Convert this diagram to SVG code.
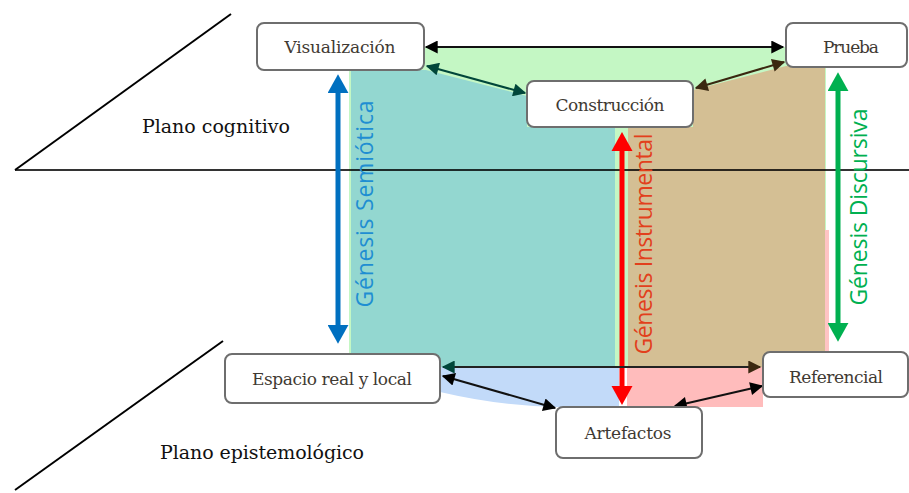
<svg xmlns="http://www.w3.org/2000/svg" width="909" height="493" viewBox="0 0 909 493">
<style>
.node rect{fill:#fff;stroke:#6e6e6e;stroke-width:2}
.node text{font-family:"DejaVu Serif","Liberation Serif",serif;font-size:17px;fill:#3f3a33;text-anchor:middle}
.plane{font-family:"DejaVu Serif","Liberation Serif",serif;font-size:19px;fill:#111}
.gen{font-family:"Open Sans","Noto Sans",sans-serif;font-size:23px;text-anchor:middle}
.conn{fill:none;stroke-width:2}
.thick{fill:none;stroke-width:5}
</style>
<defs>
<marker id="mBlack" viewBox="0 0 10 10" refX="9" refY="5" markerWidth="16" markerHeight="13" markerUnits="userSpaceOnUse" orient="auto-start-reverse"><path d="M0,0 L10,5 L0,10 z" fill="#000"/></marker>
<marker id="mTeal" viewBox="0 0 10 10" refX="9" refY="5" markerWidth="16" markerHeight="13" markerUnits="userSpaceOnUse" orient="auto-start-reverse"><path d="M0,0 L10,5 L0,10 z" fill="#00463a"/></marker>
<marker id="mBrown" viewBox="0 0 10 10" refX="9" refY="5" markerWidth="16" markerHeight="13" markerUnits="userSpaceOnUse" orient="auto-start-reverse"><path d="M0,0 L10,5 L0,10 z" fill="#3a2810"/></marker>
<marker id="tBlue" viewBox="0 0 18 20" refX="2" refY="10" markerWidth="19" markerHeight="21" markerUnits="userSpaceOnUse" orient="auto-start-reverse"><path d="M0,0 L18,10 L0,20 z" fill="#0070c0"/></marker>
<marker id="tRed" viewBox="0 0 18 20" refX="2" refY="10" markerWidth="19" markerHeight="22" markerUnits="userSpaceOnUse" orient="auto-start-reverse"><path d="M0,0 L18,10 L0,20 z" fill="#ff0000"/></marker>
<marker id="tGreen" viewBox="0 0 18 20" refX="2" refY="10" markerWidth="19" markerHeight="21" markerUnits="userSpaceOnUse" orient="auto-start-reverse"><path d="M0,0 L18,10 L0,20 z" fill="#00b050"/></marker>
</defs>
<rect width="909" height="493" fill="#fff"/>
<g id="regions">
<rect x="349" y="47" width="477" height="320" fill="#c4f7c4"/>
<rect x="825" y="230" width="4" height="137" fill="#ffc4c4"/>
<path d="M351,70 H426 L527,96 V127 H615 V367 H351 Z" fill="#93d7d0"/>
<path d="M628,127 H693 V90 L786,66 H825 V367 H628 Z" fill="#d4bf94"/>
<path d="M440,367 H619 V407 H556 Q500,406 440,392 Z" fill="#c2daf9"/>
<rect x="627" y="367" width="136" height="40" fill="#ffbcbc"/>
</g>
<g id="planes" stroke="#000" fill="none">
<line x1="15" y1="170" x2="909" y2="170" stroke-width="2" stroke-opacity="0.8"/>
<line x1="15" y1="170" x2="231" y2="14" stroke-width="2"/>
<line x1="15" y1="490" x2="223" y2="341" stroke-width="2"/>
</g>
<text class="plane" x="216" y="133" text-anchor="middle" textLength="148">Plano cognitivo</text>
<text class="plane" x="262" y="459" text-anchor="middle" textLength="204">Plano epistemológico</text>
<g id="genesis">
<text class="gen" transform="translate(373,204) rotate(-90)" fill="#1f8ed2" textLength="207">Génesis Semiótica</text>
<text class="gen" transform="translate(652,244) rotate(-90)" fill="#e2401c" textLength="221">Génesis Instrumental</text>
<text class="gen" transform="translate(867,207) rotate(-90)" fill="#00b050" textLength="197">Génesis Discursiva</text>
<line class="thick" x1="338" y1="91" x2="338" y2="327" stroke="#0070c0" marker-start="url(#tBlue)" marker-end="url(#tBlue)"/>
<line class="thick" x1="622" y1="149" x2="622" y2="388" stroke="#ff0000" stroke-width="6" marker-start="url(#tRed)" marker-end="url(#tRed)"/>
<line class="thick" x1="838" y1="89" x2="838" y2="325" stroke="#00b050" marker-start="url(#tGreen)" marker-end="url(#tGreen)"/>
</g>
<g id="connectors">
<line class="conn" x1="426" y1="47" x2="783" y2="47" stroke="#111" marker-start="url(#mBlack)" marker-end="url(#mBlack)"/>
<line class="conn" x1="427" y1="66" x2="525" y2="93" stroke="#00463a" marker-start="url(#mTeal)" marker-end="url(#mTeal)"/>
<line class="conn" x1="696" y1="88" x2="784" y2="62" stroke="#3a2810" marker-start="url(#mBrown)" marker-end="url(#mBrown)"/>
<line class="conn" x1="443" y1="367" x2="760" y2="367" stroke="#222" marker-start="url(#mTeal)" marker-end="url(#mBrown)"/>
<line class="conn" x1="443" y1="376" x2="555" y2="408" stroke="#111" marker-start="url(#mBlack)" marker-end="url(#mBlack)"/>
<line class="conn" x1="675" y1="406" x2="762" y2="386" stroke="#111" marker-start="url(#mBlack)" marker-end="url(#mBlack)"/>
</g>
<g id="visualizacion" class="node"><rect x="257" y="23" width="167" height="47" rx="7"/><text x="340" y="53" textLength="111">Visualización</text></g>
<g id="prueba" class="node"><rect x="786" y="23" width="121" height="44" rx="7"/><text x="851" y="53" textLength="56">Prueba</text></g>
<g id="construccion" class="node"><rect x="527" y="81" width="166" height="46" rx="7"/><text x="610" y="111" textLength="109">Construcción</text></g>
<g id="espacio" class="node"><rect x="225" y="354" width="215" height="49" rx="7"/><text x="332" y="385" textLength="160">Espacio real y local</text></g>
<g id="artefactos" class="node"><rect x="556" y="407" width="146" height="51" rx="7"/><text x="628" y="439" textLength="87">Artefactos</text></g>
<g id="referencial" class="node"><rect x="763" y="352" width="145" height="45" rx="7"/><text x="836" y="383" textLength="94">Referencial</text></g>
</svg>
